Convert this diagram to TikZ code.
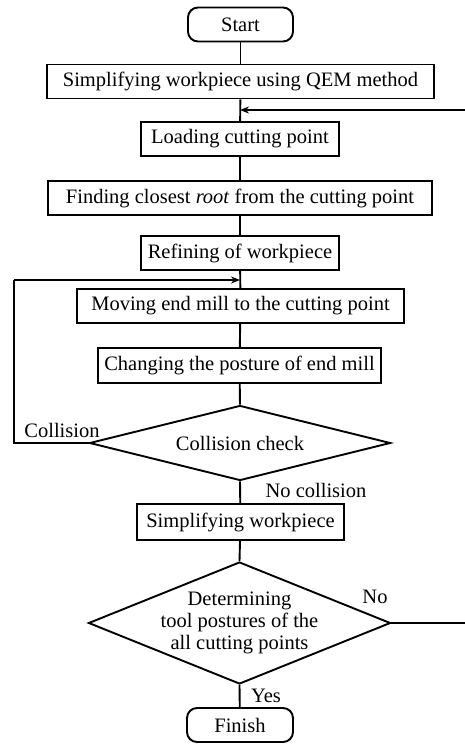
\documentclass[tikz,border=0pt]{standalone}
\usepackage{fontspec}
\setmainfont{Liberation Serif}
\usetikzlibrary{shapes.geometric,arrows.meta}
\begin{document}
\begin{tikzpicture}[x=1pt,y=-1pt,
  font=\fontsize{20.5}{22}\selectfont,
  box/.style={draw,line width=1.9pt,rectangle,inner sep=0pt,minimum height=34pt},
  term/.style={draw,line width=1.9pt,rectangle,rounded corners=10pt,inner sep=0pt,minimum height=34pt,minimum width=105pt},
  dia/.style={draw,line width=1.9pt,diamond,inner sep=0pt},
  conn/.style={line width=1.9pt},
  arr/.style={line width=1.9pt,-{Stealth[length=9pt,width=7pt]}},
  lbl/.style={inner sep=0pt}]
\useasboundingbox (0,0) rectangle (465,745);
\node[term] (start) at (240.5,24.5) {Start};
\node[box,minimum width=387pt] (qem) at (240.5,81.5) {Simplifying workpiece using QEM method};
\node[box,minimum width=198pt] (load) at (240,139) {Loading cutting point};
\node[box,minimum width=384pt] (find) at (240,198) {Finding closest \textit{root} from the cutting point};
\node[box,minimum width=198pt] (refine) at (240,253) {Refining of workpiece};
\node[box,minimum width=327pt] (move) at (240.5,306) {Moving end mill to the cutting point};
\node[box,minimum width=283pt,minimum height=35pt] (change) at (239.5,365.5) {Changing the posture of end mill};
\node[dia,minimum width=301pt,minimum height=75pt] (coll) at (240,443) {};
\node[lbl] (colltext) at (coll.center) {Collision check};
\node[box,minimum width=207pt,minimum height=36pt] (simp) at (240.5,522) {Simplifying workpiece};
\node[dia,minimum width=302pt,minimum height=122pt] (det) at (239.5,623) {};
\node[lbl,align=center] (dettext) at (det.center) {Determining\\tool postures of the\\all cutting points};
\node[term,minimum width=106pt] (finish) at (240,725) {Finish};

\coordinate (j1) at (240,110);
\coordinate (j2) at (240,280);
\coordinate (l1) at (14,443);
\coordinate (l2) at (14,280);
\coordinate (r1) at (468,623);
\coordinate (r2) at (468,110);

\draw[conn] (start) -- (qem);
\draw[conn] (qem) -- (load);
\draw[conn] (load) -- (find);
\draw[conn] (find) -- (refine);
\draw[conn] (refine) -- (move);
\draw[conn] (move) -- (change);
\draw[conn] (change) -- (coll.north);
\draw[conn] (coll.south) -- (simp);
\draw[conn] (simp) -- (det.north);
\draw[conn] (det.south) -- (finish);
\draw[conn] (coll.west) -- (l1) -- (l2);
\draw[arr] (l2) -- (j2);
\draw[conn] (det.east) -- (r1) -- (r2);
\draw[arr] (r2) -- (j1);

\node[lbl] (lcoll) at (62,430) {Collision};
\node[lbl] (lnocoll) at (316,490) {No collision};
\node[lbl] (lno) at (375,597) {No};
\node[lbl] (lyes) at (266,696) {Yes};
\end{tikzpicture}
\end{document}
